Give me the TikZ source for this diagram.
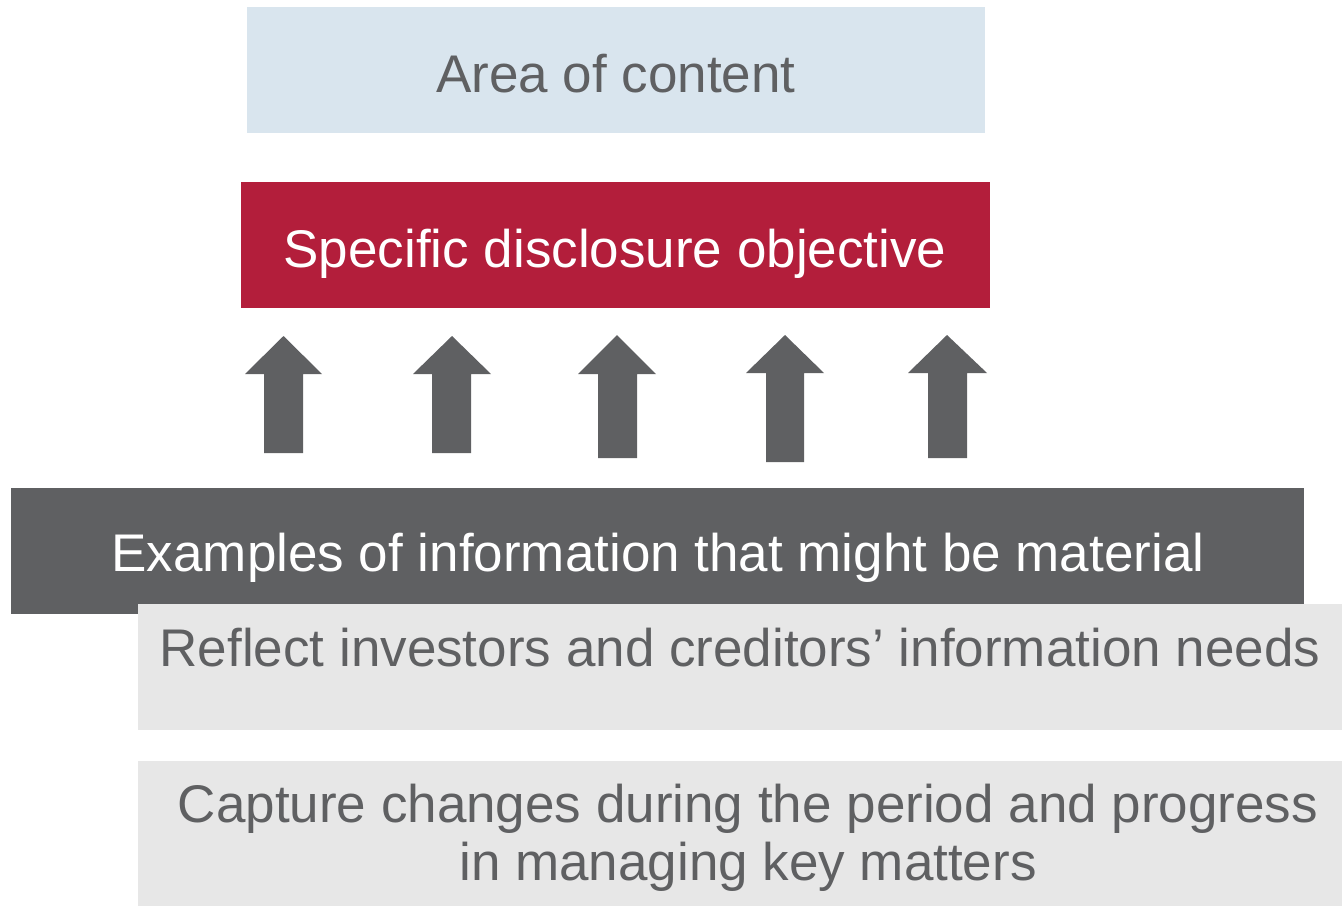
\documentclass[tikz,border=0pt]{standalone}
\usepackage{fontspec}
\setmainfont{Liberation Sans}
\definecolor{areablue}{HTML}{D9E5EE}
\definecolor{objred}{HTML}{B31E3B}
\definecolor{darkgray}{HTML}{5F6062}
\definecolor{lightgray}{HTML}{E7E7E7}
\definecolor{txtgray}{HTML}{5F6062}
\begin{document}
\begin{tikzpicture}[x=1pt,y=-1pt]
\tikzset{
  box/.style={draw=none,inner sep=0pt,outer sep=0pt,anchor=north west},
  lbl/.style={font=\fontsize{53}{58}\selectfont,inner sep=0pt,anchor=base},
  uparrowfill/.style={fill=darkgray}
}
\useasboundingbox (0,0) rectangle (1342,906);
% boxes
\node[box,fill=areablue,minimum width=738pt,minimum height=126pt] (area) at (247,7) {};
\node[box,fill=objred,minimum width=749pt,minimum height=126pt] (obj) at (241,182) {};
\node[box,fill=darkgray,minimum width=1293pt,minimum height=126pt] (ex) at (11,488) {};
\node[box,fill=lightgray,minimum width=1204pt,minimum height=126pt] (refl) at (138,604) {};
\node[box,fill=lightgray,minimum width=1204pt,minimum height=145pt] (capt) at (138,761) {};
% texts
\node[lbl,text=txtgray] (areat) at (616,92) {Area of content};
\node[lbl,text=white] (objt) at (615,267) {Specific disclosure objective};
\node[lbl,text=white] (ext) at (658,571) {Examples of information that might be material};
\node[lbl,text=txtgray] (reflt) at (740,666) {Reflect investors and creditors’ information needs};
\node[lbl,text=txtgray] (capt1) at (748,822) {Capture changes during the period and progress};
\node[lbl,text=txtgray] (capt2) at (748,880) {in managing key matters};
% arrows
\fill[uparrowfill] (264,453) -- (264,374) -- (245,374) -- (283.5,336) -- (322,374) -- (303,374) -- (303,453) -- cycle;
\fill[uparrowfill] (432,453) -- (432,374) -- (413,374) -- (452,336) -- (491,374) -- (471,374) -- (471,453) -- cycle;
\fill[uparrowfill] (598,458) -- (598,374) -- (578,374) -- (617,335) -- (656,374) -- (637,374) -- (637,458) -- cycle;
\fill[uparrowfill] (766,462) -- (766,373) -- (746,373) -- (785,335) -- (824,373) -- (804,373) -- (804,462) -- cycle;
\fill[uparrowfill] (928,458) -- (928,373) -- (908,373) -- (947,335) -- (987,373) -- (967,373) -- (967,458) -- cycle;
\end{tikzpicture}
\end{document}
